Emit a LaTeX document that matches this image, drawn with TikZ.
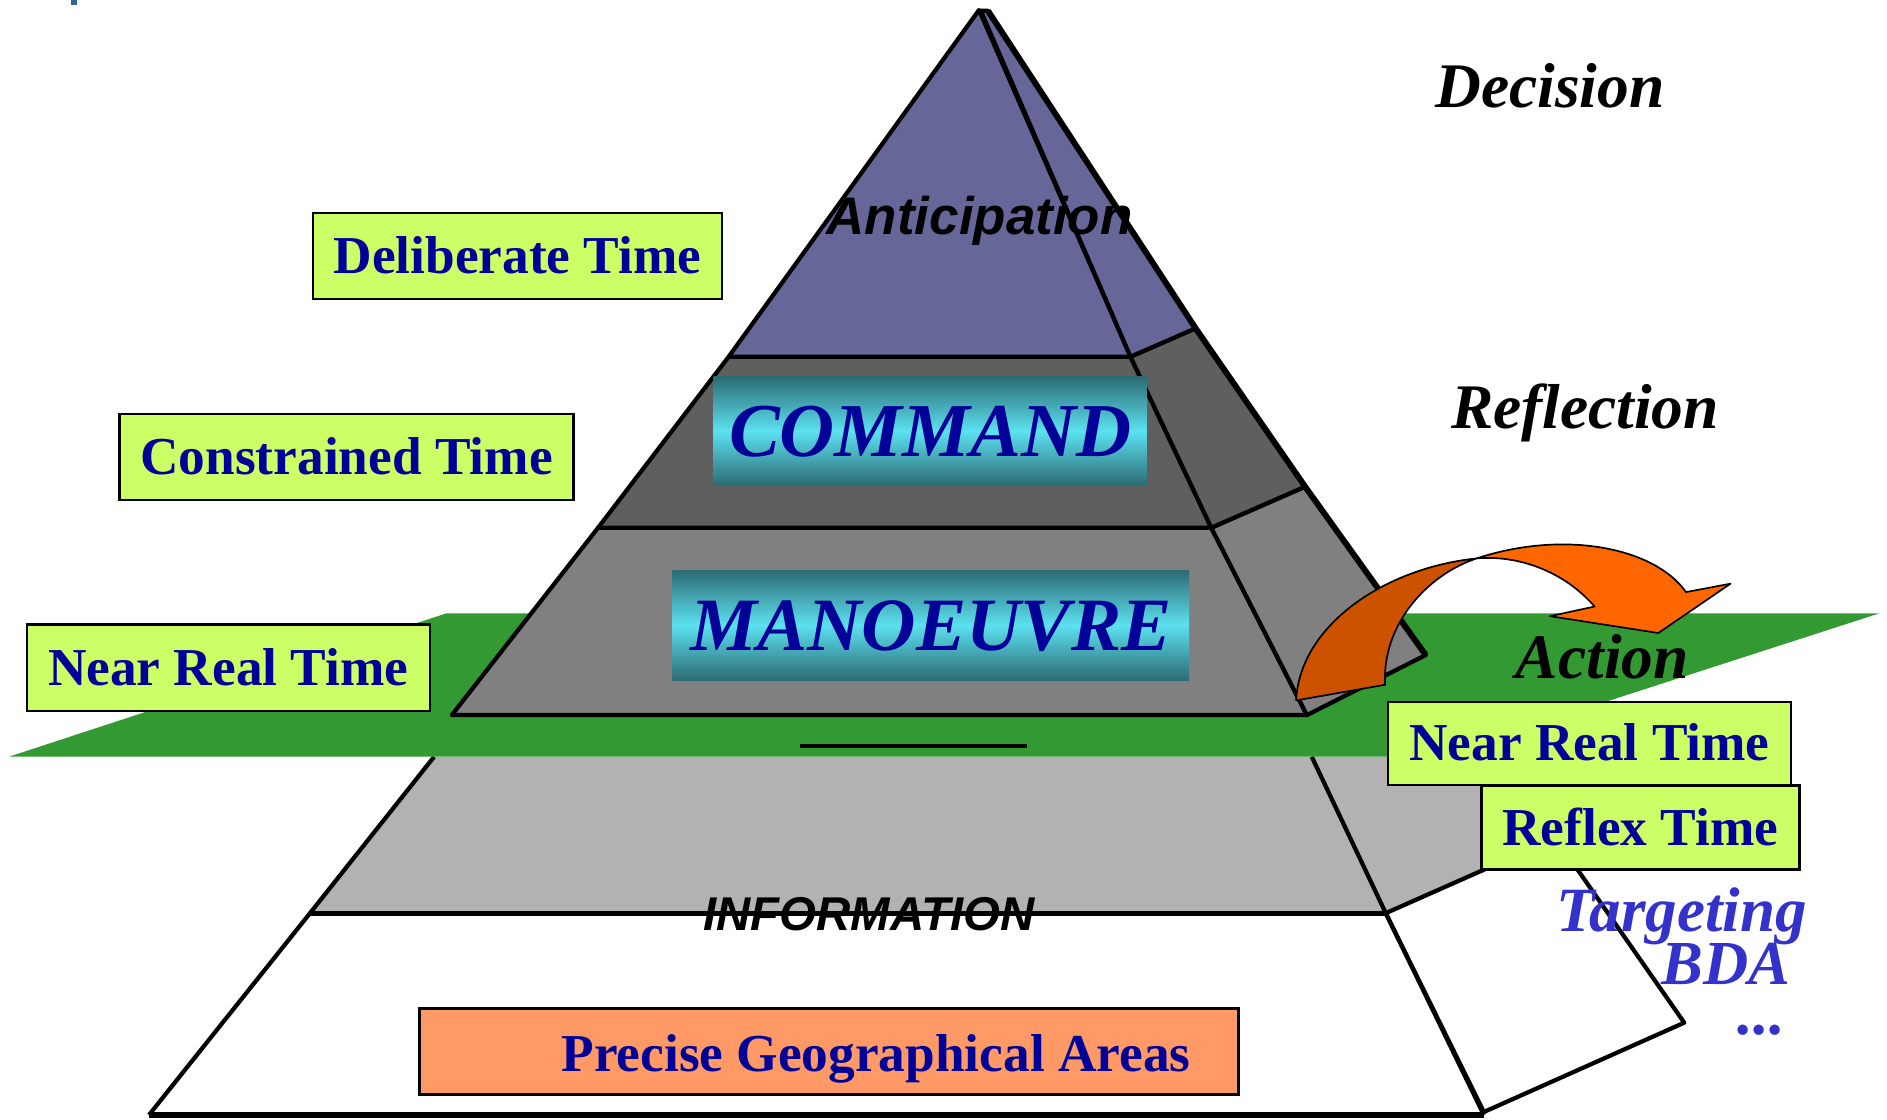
\documentclass[tikz,border=0pt]{standalone}
\usepackage{fontspec}
\setmainfont{Liberation Serif}
\newfontfamily\arialf{Liberation Sans}
\definecolor{boxgreen}{HTML}{CCFF66}
\definecolor{darkblue}{HTML}{000099}
\definecolor{midblue}{HTML}{3333CC}
\definecolor{topviolet}{HTML}{666699}
\definecolor{cgray}{HTML}{5F5F5F}
\definecolor{mgray}{HTML}{808080}
\definecolor{infogray}{HTML}{B2B2B2}
\definecolor{plane}{HTML}{339933}
\definecolor{tealdark}{HTML}{2C6B73}
\definecolor{cyanlight}{HTML}{5CE1F0}
\definecolor{arrowbright}{HTML}{FF6600}
\definecolor{arrowdark}{HTML}{CC5200}
\definecolor{salmon}{HTML}{FF9966}
\definecolor{markblue}{HTML}{336699}
\begin{document}
\begin{tikzpicture}[x=0.01cm,y=-0.01cm,
  edge/.style={line width=1pt, line join=round},
  ridge/.style={line width=1.4pt, line join=round},
  tbox/.style={draw=black, line width=0.6pt, fill=boxgreen, text=darkblue,
    font=\bfseries\fontsize{12.6}{14}\selectfont, inner sep=0pt,
    text height=8.3pt, text depth=0pt},
  gbox/.style={inner sep=0pt, text=darkblue,
    font=\bfseries\itshape\fontsize{18}{20}\selectfont,
    text height=11.9pt, text depth=0pt,
    top color=tealdark, bottom color=tealdark, middle color=cyanlight},
  sidelabel/.style={font=\bfseries\itshape\fontsize{15}{17}\selectfont, inner sep=0pt, anchor=base west},
  bluelabel/.style={sidelabel, text=midblue, text depth=0pt},
  sanslabel/.style={font=\arialf\bfseries\itshape, inner sep=0pt, anchor=base}
]
\useasboundingbox (0,0) rectangle (1568,930);

% tiny mark at the top left
\fill[markblue] (59,0) rectangle (64,4);

% ---------- information section (below the plane)
\fill[infogray] (360.7,628.8) -- (257.6,758.8) -- (1151.5,758.8) -- (1090,628.8) -- cycle;
\fill[infogray] (1090,628.8) -- (1151.5,758.8) -- (1240,719.6) -- (1240,628.8) -- cycle;
\draw[edge] (360.7,628.8) -- (257.6,758.8);
\draw[edge] (1090,628.8) -- (1151.5,758.8);

% ---------- bottom white section
\filldraw[fill=white, edge] (1151.5,758.8) -- (1233,924) -- (1399.5,849.8) -- (1300,707);
\draw[edge] (1151.5,758.8) -- (1240,719.6);
\draw[edge] (257.6,758.8) -- (123.8,926.5);
\draw[edge] (1151.5,758.8) -- (1233,926.5);
\draw[line width=1.3pt] (123.8,926.5) -- (1233,926.5);
\draw[line width=1.2pt] (257.6,758.8) -- (1151.5,758.8);

% ---------- green plane
\fill[plane] (370.8,509.7) -- (1561.5,509.7) -- (1193,628.8) -- (7.4,628.8) -- cycle;

% ---------- manoeuvre section
\filldraw[fill=mgray, edge] (497,438.5) -- (375.4,594.2) -- (1086,594.2) -- (1006.5,438.5) -- cycle;
\filldraw[fill=mgray, edge] (1006.5,438.5) -- (1084.5,404.4) -- (1184.7,544.3) -- (1086,594.2) -- cycle;
\draw[line width=1pt] (665,619.6) -- (853,619.6);

% ---------- command section
\filldraw[fill=cgray, edge] (605.5,296.4) -- (497,438.5) -- (1006.5,438.5) -- (939.4,296.4) -- cycle;
\filldraw[fill=cgray, edge] (939.4,296.4) -- (993.5,272.8) -- (1084.5,404.4) -- (1006.5,438.5) -- cycle;

% ---------- top section
\filldraw[fill=topviolet, edge] (813.5,8.3) -- (605.5,296.4) -- (939.4,296.4) -- cycle;
\filldraw[fill=topviolet, edge] (815,9) -- (821,9) -- (993.5,272.8) -- (939.4,296.4) -- cycle;
\draw[ridge] (821,9) -- (993.5,272.8) -- (1084.5,404.4) -- (1184.7,544.3);

% ---------- labels on the pyramid
\node[sanslabel, font=\arialf\bfseries\itshape\fontsize{12.5}{14}\selectfont] (antic) at (814,195) {Anticipation};
\node[gbox, minimum width=3.597cm, minimum height=0.906cm] (command) at (772.9,358.3) {COMMAND};
\node[gbox, font=\bfseries\itshape\fontsize{17.8}{20}\selectfont, minimum width=4.29cm, minimum height=0.913cm] (manoeuvre) at (773.5,519.4) {MANOEUVRE};
\node[sanslabel, font=\arialf\bfseries\itshape\fontsize{11.2}{13}\selectfont] (info) at (722,773) {INFORMATION};
\node[draw=black, line width=0.6pt, fill=salmon, minimum width=6.803cm, minimum height=0.713cm, inner sep=0pt] (precbox) at (688.9,873.7) {};
\node[anchor=base west, inner sep=0pt, text=darkblue, font=\bfseries\fontsize{12.6}{14}\selectfont] (prectext) at (466,890) {Precise Geographical Areas};

% ---------- time boxes on the left
\node[tbox, minimum width=3.40cm, minimum height=0.715cm] (deliberate) at (430,212.8) {Deliberate Time};
\node[tbox, minimum width=3.773cm, minimum height=0.715cm] (constrained) at (288,379.8) {Constrained Time};
\node[tbox, minimum width=3.347cm, minimum height=0.718cm] (nrtleft) at (189.7,554.7) {Near Real Time};

% ---------- orange arrow
\filldraw[fill=arrowdark, draw=black, line width=0.4pt, line join=round]
  (1077,582) -- (1151,569) .. controls (1148,520) and (1185,478) .. (1227,464)
  .. controls (1150,472) and (1080,520) .. (1077,582) -- cycle;
\filldraw[fill=arrowbright, draw=black, line width=0.4pt, line join=round]
  (1227,464) .. controls (1300,440) and (1375,455) .. (1401,492)
  -- (1438,485) -- (1378,526) -- (1288,512) -- (1325,504)
  .. controls (1300,475) and (1262,461) .. (1227,464) -- cycle;

% ---------- right labels
\node[sidelabel] (decision) at (1192,89) {Decision};
\node[sidelabel] (reflection) at (1205,356) {Reflection};
\node[sidelabel] (action) at (1259,564) {Action};
\node[tbox, minimum width=3.346cm, minimum height=0.69cm] (nrtright) at (1320.7,617.7) {Near Real Time};
\node[tbox, minimum width=2.64cm, minimum height=0.70cm] (reflex) at (1363,687.6) {Reflex Time};
\node[bluelabel, font=\bfseries\itshape\fontsize{14.9}{17}\selectfont] (targeting) at (1293,774) {Targeting};
\node[bluelabel, font=\bfseries\itshape\fontsize{14.8}{17}\selectfont] (bda) at (1380,818) {BDA};
\node[bluelabel] (dots) at (1443,860) {...};
\end{tikzpicture}
\end{document}
